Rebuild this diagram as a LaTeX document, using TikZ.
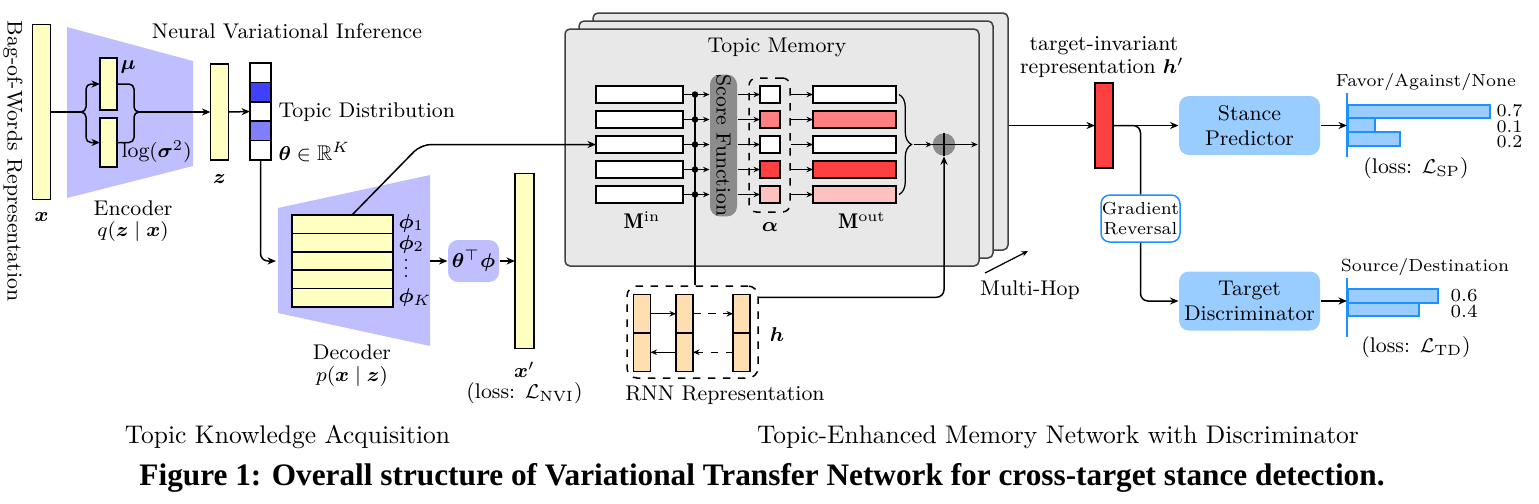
\documentclass[tikz,border=0pt]{standalone}
\usepackage{amsmath,amssymb,bm}
\usepackage{graphicx}
\usepackage{fontspec}
\newfontfamily\capfont{Liberation Serif}
\usetikzlibrary{arrows.meta,decorations.pathreplacing,calc}
\definecolor{ylw}{HTML}{FFFFC2}
\definecolor{lav}{HTML}{BFBFFF}
\definecolor{panelc}{HTML}{E8E8E8}
\definecolor{bdark}{HTML}{4040FF}
\definecolor{blight}{HTML}{8080FF}
\definecolor{rdark}{HTML}{FF4040}
\definecolor{rmid}{HTML}{FF8080}
\definecolor{rlight}{HTML}{FFC0C0}
\definecolor{sfgray}{HTML}{8C8C8C}
\definecolor{peach}{HTML}{FFDFB0}
\definecolor{skyb}{HTML}{99CCFF}
\definecolor{dblue}{HTML}{1E90FF}
\begin{document}
\begin{tikzpicture}[x=0.4pt,y=-0.4pt,
  wh/.style 2 args={minimum width=#1*0.4pt, minimum height=#2*0.4pt},
  bar/.style={draw, line width=0.6pt, inner sep=0pt, outer sep=0pt},
  ln/.style={draw, line width=0.6pt},
  arr/.style={draw, line width=0.6pt, -{Stealth[length=3.4pt,width=2.8pt]}},
  sarr/.style={draw, line width=0.5pt, -{Stealth[length=2.6pt,width=2.2pt]}},
  lab/.style={font=\fontsize{8.5}{10}\selectfont, inner sep=0pt},
  sml/.style={font=\fontsize{7}{8.4}\selectfont, inner sep=0pt},
  num/.style={font=\fontsize{7.1}{6.2}\selectfont, inner sep=0pt, align=left},
  big/.style={font=\fontsize{10.2}{12}\selectfont, inner sep=0pt},
  panel/.style={draw=black!75, fill=panelc, rounded corners=2pt, line width=0.6pt, inner sep=0pt},
  boxb/.style={fill=skyb, rounded corners=4pt, wh={141}{59}, align=center, font=\fontsize{8.5}{10}\selectfont, inner sep=0pt},
  barb/.style={draw=dblue, fill=skyb, line width=0.6pt, inner sep=0pt, anchor=west},
  rnncell/.style={bar, fill=peach, wh={17}{38.5}}
]
\useasboundingbox (0,0) rectangle (1539,503);

% ---------- Encoder part ----------
\node[lab, rotate=-90] (bow) at (13,161) {Bag-of-Words Representation};
\node[bar, fill=ylw, wh={18}{175}] (x) at (41.5,112) {};
\node[lab] (xl) at (41.5,217) {$\bm{x}$};
\fill[lav] (67,27) -- (193,61) -- (193,166) -- (67,198) -- cycle;
\node[bar, fill=ylw, wh={17}{52}] (mu) at (108.5,84) {};
\node[bar, fill=ylw, wh={17}{49}] (lg) at (108.5,142.5) {};
\node[lab, anchor=west] (mul) at (120,67) {$\bm{\mu}$};
\node[lab, anchor=west] (lgl) at (121,152) {$\log(\bm{\sigma}^2)$};
\node[lab] (encl) at (133,208) {Encoder};
\node[lab] (encq) at (133,231) {$q(\bm{z}\mid\bm{x})$};
\node[lab] (nvi) at (287,31) {Neural Variational Inference};

\coordinate (jL) at (80,112);
\coordinate (jR) at (140,112);
\draw[ln] (x.east) -- (jL);
\draw[arr, rounded corners=2pt] (jL) -- ++(6,0) |- (mu.west);
\draw[arr, rounded corners=2pt] (jL) -- ++(6,0) |- (lg.west);
\draw[ln, rounded corners=2pt] (mu.east) -| (134,112) -- (jR);
\draw[ln, rounded corners=2pt] (lg.east) -| (134,112) -- (jR);

\node[bar, fill=ylw, wh={18}{96}] (z) at (219.5,112) {};
\node[lab] (zl) at (219.5,179) {$\bm{z}$};
\draw[arr] (jR) -- (z.west);

\foreach \i/\c in {1/white,2/bdark,3/white,4/blight,5/white}
  \node[bar, fill=\c, wh={21}{19.4}] (td\i) at (260.5,{53.3+19.4*\i}) {};
\draw[arr] (z.east) -- (td3.west);
\node[lab, anchor=west] (tdl) at (278,112) {Topic Distribution};
\node[lab, anchor=west] (thl) at (278,152) {$\bm{\theta}\in\mathbb{R}^K$};

% ---------- Decoder part ----------
\fill[lav] (278,208) -- (430,175) -- (430,346) -- (278,313) -- cycle;
\foreach \i in {1,...,5}
  \node[bar, fill=ylw, wh={101}{18.4}] (dr\i) at (342.5,{205.8+18.4*\i}) {};
\node[lab, anchor=west] (p1) at (398,223) {$\bm{\phi}_1$};
\node[lab, anchor=west] (p2) at (398,244) {$\bm{\phi}_2$};
\foreach \dy in {260,268,276} \fill (406,\dy) circle (0.45pt);
\node[lab, anchor=west] (pk) at (398,297) {$\bm{\phi}_K$};
\coordinate (decIn) at (276,261);
\draw[arr, rounded corners=3pt] (td5.south) |- (decIn);
\node[lab] (decl) at (352,352) {Decoder};
\node[lab] (decp) at (352,376) {$p(\bm{x}\mid\bm{z})$};
\coordinate (decOut) at (430,261);
\node[fill=lav, rounded corners=4pt, wh={51}{42}, inner sep=0pt, font=\fontsize{8.5}{10}\selectfont] (tp) at (473.5,261) {$\bm{\theta}^{\top}\bm{\phi}$};
\draw[arr] (decOut) -- (tp.west);
\node[bar, fill=ylw, wh={19}{175}] (xp) at (524.5,261) {};
\draw[arr] (tp.east) -- (xp.west);
\node[lab] (xpl) at (524.5,370) {$\bm{x}'$};
\node[lab] (nvil) at (524.5,393) {(loss: $\mathcal{L}_{\mathrm{NVI}}$)};

% ---------- Memory ----------
\node[panel, wh={415}{237}] (back) at (800.5,131.5) {};
\node[panel, wh={414}{237}] (mid) at (786,139.5) {};
\node[panel, wh={414}{237}] (front) at (772,147.5) {};
\node[lab] (tml) at (777,47) {Topic Memory};

\foreach \i in {1,...,5}
  \node[bar, fill=white, wh={87}{17}] (min\i) at (639.5,{69.5+25*\i}) {};
\node[fill=sfgray, rounded corners=4pt, wh={27}{141}, inner sep=0pt, font=\fontsize{8.2}{9}\selectfont] (sf) at (723.5,145.5) {\rotatebox{-90}{Score Function}};
\coordinate (vt) at (695,94.5);
\foreach \i in {1,...,5} {
  \draw[sarr] (min\i.east) -- (min\i.east -| sf.west);
  \fill (min\i.east -| vt) circle (1.3pt);
}
\node[draw, dashed, rounded corners=3pt, wh={41}{134}, line width=0.6pt, inner sep=0pt] (abox) at (769.5,145) {};
\foreach \i/\c in {1/white,2/rmid,3/white,4/rdark,5/rlight} {
  \node[bar, fill=\c, wh={20}{17}] (a\i) at (770,{69.5+25*\i}) {};
  \node[bar, fill=\c, wh={83}{17}] (mo\i) at (854.5,{69.5+25*\i}) {};
  \draw[sarr] (sf.east |- a\i.west) -- (a\i.west);
  \draw[sarr] (abox.east |- a\i.east) -- (mo\i.west);
}
\node[lab] (minl) at (642,220) {$\mathbf{M}^{\mathrm{in}}$};
\node[lab] (al) at (770,227) {$\bm{\alpha}$};
\node[lab] (moutl) at (862,220) {$\mathbf{M}^{\mathrm{out}}$};
\draw[ln, line width=0.5pt, decorate, decoration={brace, amplitude=5pt}] ([xshift=1.2pt]mo1.east) -- ([xshift=1.2pt]mo5.east);
\coordinate (btip) at (914,144.5);
\node[circle, fill=sfgray, minimum size=9pt, inner sep=0pt] (plus) at (944,144.5) {};
\draw[line width=0.5pt] (plus.north) -- (plus.south);
\draw[line width=0.5pt] (plus.west) -- (plus.east);
\draw[sarr] (btip) -- (plus.west);
\draw[sarr] (plus.east) -- ([xshift=-0.8pt]plus.east -| front.east);

% ---------- RNN ----------
\node[draw, dashed, rounded corners=4pt, wh={131}{92}, line width=0.6pt, inner sep=0pt] (rnn) at (692.5,332) {};
\foreach \n/\cx in {1/642,2/684.5,3/741.5} {
  \node[rnncell] (r\n t) at (\cx,313.75) {};
  \node[rnncell] (r\n b) at (\cx,352.25) {};
}
\draw[sarr] (r1t.east) -- (r2t.west);
\draw[sarr, dashed] (r2t.east) -- (r3t.west);
\draw[sarr, dashed] (r3b.west) -- (r2b.east);
\draw[sarr] (r2b.west) -- (r1b.east);
\node[lab] (hl) at (777,335) {$\bm{h}$};
\node[lab] (rnnl) at (725,395) {RNN Representation};
\draw[ln] (vt) -- (vt |- rnn.north);
\draw[arr, rounded corners=3pt] ([yshift=-4.8pt]rnn.north east) -| (plus.south);

% decoder to memory
\draw[arr, rounded corners=4pt] ([xshift=3.8pt]dr1.north) -- (421,144.5) -- (min3.west);

% multi-hop
\coordinate (mh1) at (985,273);
\coordinate (mh2) at (1028,251);
\draw[sarr] (mh1) -- (mh2);
\node[lab] (mhl) at (1030,290) {Multi-Hop};

% ---------- Right part ----------
\node[bar, fill=rdark, wh={18}{85}] (hp) at (1104,125.5) {};
\draw[arr] (hp.west -| back.east) -- (hp.west);
\node[lab] (til) at (1104,46) {target-invariant};
\node[lab] (trl) at (1102,68) {representation $\bm{h}'$};
\node[boxb] (sp) at (1249.5,125.5) {Stance\\Predictor};
\node[boxb] (tdisc) at (1249.5,301) {Target\\Discriminator};
\node[draw=dblue, fill=white, rounded corners=3.5pt, wh={79}{47}, align=center, font=\fontsize{7}{8.2}\selectfont, line width=0.6pt, inner sep=0pt] (gr) at (1140.5,218.5) {Gradient\\Reversal};
\draw[arr] (hp.east) -- (sp.west);
\draw[ln, rounded corners=3pt] (hp.east) -| (gr.north);
\draw[arr, rounded corners=3pt] (gr.south) |- (tdisc.west);

% stance chart
\coordinate (spax) at (1347,125.5);
\coordinate (spt) at (1347,93);
\coordinate (spb) at (1347,157);
\node[barb, wh={142}{13}] (sb1) at (1347,111.5) {};
\node[barb, wh={27}{14}] (sb2) at (1347,125) {};
\node[barb, wh={52}{14}] (sb3) at (1347,139) {};
\draw[dblue, line width=0.6pt] (spt) -- (spb);
\draw[arr] (sp.east) -- (spax);
\node[num, anchor=west] (vsp) at (1496,126.5) {0.7\\0.1\\0.2};
\node[sml] (fan) at (1426,82) {Favor/Against/None};
\node[lab] (lsp) at (1416,168) {(loss: $\mathcal{L}_{\mathrm{SP}}$)};

% discriminator chart
\coordinate (tdax) at (1347,301);
\coordinate (tdt) at (1347,278);
\coordinate (tdb) at (1347,337);
\node[barb, wh={90}{14}] (tb1) at (1347,296) {};
\node[barb, wh={71}{13}] (tb2) at (1347,309.5) {};
\draw[dblue, line width=0.6pt] (tdt) -- (tdb);
\draw[arr] (tdisc.east) -- (tdax);
\node[num, anchor=west, font=\fontsize{7.4}{6.2}\selectfont] (vtd) at (1450,303.5) {0.6\\0.4};
\node[sml] (sdl) at (1425,267) {Source/Destination};
\node[lab] (ltd) at (1416,347) {(loss: $\mathcal{L}_{\mathrm{TD}}$)};

% ---------- bottom ----------
\node[big] (tka) at (287.5,437) {Topic Knowledge Acquisition};
\node[big] (tem) at (1058,437) {Topic-Enhanced Memory Network with Discriminator};
\node[inner sep=0pt] (cap) at (762,478) {\resizebox{498pt}{!}{\capfont\bfseries Figure 1: Overall structure of Variational Transfer Network for cross-target stance detection.}};
\end{tikzpicture}
\end{document}
